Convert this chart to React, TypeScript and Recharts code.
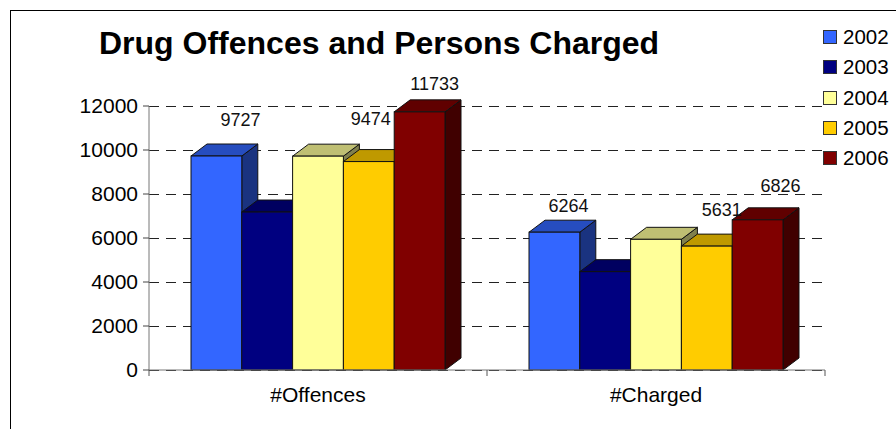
import { Bar, BarChart, CartesianGrid, LabelList, Legend, XAxis, YAxis } from 'recharts';

const categories = ['#Offences', '#Charged'];
const years = ['2002', '2003', '2004', '2005', '2006'];
const values2002 = [9727, 6264];
const values2003 = [7180, 4470];
const values2004 = [9720, 5940];
const values2005 = [9474, 5631];
const values2006 = [11733, 6826];
const yTicks = [0, 2000, 4000, 6000, 8000, 10000, 12000];
const title = 'Drug Offences and Persons Charged';

const seriesValues = [values2002, values2003, values2004, values2005, values2006];
const seriesColors = ['#3366ff', '#000080', '#ffff99', '#ffcc00', '#800000'];

const data = categories.map((name, i) => {
  const row: Record<string, string | number> = { name };
  years.forEach((year, s) => {
    row[year] = seriesValues[s][i];
  });
  return row;
});

const FONT = '"Liberation Sans", Arial, sans-serif';
const DEPTH_X = 16;
const DEPTH_Y = 12;
const PLOT_WIDTH = 676;
const HALF_BAND = PLOT_WIDTH / categories.length / 2;

function shade(hex: string, k: number) {
  const n = parseInt(hex.slice(1), 16);
  const r = Math.round(((n >> 16) & 255) * k);
  const g = Math.round(((n >> 8) & 255) * k);
  const b = Math.round((n & 255) * k);
  return `rgb(${r},${g},${b})`;
}

function Box3D(props: any) {
  const { x, y, width: w, height: h, fill } = props;
  const right = x + w;
  const bottom = y + h;
  const top = `${x},${y} ${x + DEPTH_X},${y - DEPTH_Y} ${right + DEPTH_X},${y - DEPTH_Y} ${right},${y}`;
  const side = `${right},${y} ${right + DEPTH_X},${y - DEPTH_Y} ${right + DEPTH_X},${bottom - DEPTH_Y} ${right},${bottom}`;
  return (
    <g stroke="#111" strokeWidth={1}>
      <polygon points={side} fill={shade(fill, 0.5)} />
      <polygon points={top} fill={shade(fill, 0.75)} />
      <rect x={x} y={y} width={w} height={h} fill={fill} />
    </g>
  );
}

// category axis ticks sit between the groups, not under them
function CategoryTick({ x, y, payload, index }: any) {
  const axisY = 370;
  return (
    <g>
      {index === 0 && <line x1={x - HALF_BAND} x2={x - HALF_BAND} y1={axisY} y2={axisY + 6} stroke="#555" />}
      <line x1={x + HALF_BAND} x2={x + HALF_BAND} y1={axisY} y2={axisY + 6} stroke="#555" />
      <text x={x} y={y} dy={24} textAnchor="middle" fontFamily={FONT} fontSize={21} fill="#000">
        {payload.value}
      </text>
    </g>
  );
}

// the labels in the source sit wherever someone dragged them
const labelShift: Record<string, [number, number][]> = {
  '2002': [[24, -36], [14, -26]],
  '2005': [[2, -43], [15, -36]],
  '2006': [[15, -28], [23, -34]],
};

function makeLabel(year: string) {
  return function ValueLabel(props: any) {
    const { x, y, width, value, index } = props;
    const [dx, dy] = labelShift[year][index];
    return (
      <text
        x={x + width / 2 + dx}
        y={y + dy}
        textAnchor="middle"
        dominantBaseline="central"
        fontFamily={FONT}
        fontSize={18}
        fill="#111"
      >
        {value}
      </text>
    );
  };
}

function LegendBox({ payload }: any) {
  return (
    <div style={{ fontFamily: FONT, fontSize: 20.5, color: '#000' }}>
      {(payload || []).map((item: any) => (
        <div key={item.value} style={{ display: 'flex', alignItems: 'center', height: 30.3 }}>
          <span
            style={{
              display: 'inline-block',
              boxSizing: 'border-box',
              width: 14,
              height: 14,
              marginRight: 6,
              background: item.color,
              border: '1px solid #333',
            }}
          />
          {item.value}
        </div>
      ))}
    </div>
  );
}

export default function App() {
  return (
    <div style={{ position: 'absolute', left: 0, top: 0, width: 896, height: 429, overflow: 'hidden', background: '#fff' }}>
      <div
        style={{
          position: 'absolute',
          left: 10,
          top: 10,
          width: 1000,
          height: 1000,
          border: '1px solid #000',
        }}
      />
      <BarChart
        width={896}
        height={429}
        data={data}
        margin={{ top: 106, right: 71, bottom: 19, left: 89 }}
        barSize={50.8}
        barGap={0}
        style={{ position: 'absolute', left: 0, top: 0 }}
      >
        <text x={99} y={43} dominantBaseline="central" fontFamily={FONT} fontWeight="bold" fontSize={32} fill="#000">
          {title}
        </text>
        <CartesianGrid horizontal vertical={false} stroke="#222" strokeDasharray="10 7" shapeRendering="crispEdges" />
        <XAxis
          dataKey="name"
          height={40}
          stroke="#777"
          tickLine={false}
          tick={<CategoryTick />}
          interval={0}
        />
        <YAxis
          width={60}
          domain={[0, 12000]}
          ticks={yTicks}
          stroke="#777"
          tickSize={6}
          tickMargin={5}
          tick={{ fontFamily: FONT, fontSize: 21, fill: '#000' }}
          tickLine={{ stroke: '#444' }}
        />
        <Legend
          layout="vertical"
          align="center"
          verticalAlign="middle"
          content={LegendBox}
          wrapperStyle={{ position: 'absolute', left: 823, top: 22, width: 73 }}
        />
        {years.map((year, s) => (
          <Bar
            key={year}
            dataKey={year}
            name={year}
            fill={seriesColors[s]}
            shape={Box3D}
            isAnimationActive={false}
          >
            {labelShift[year] && <LabelList dataKey={year} content={makeLabel(year)} />}
          </Bar>
        ))}
      </BarChart>
    </div>
  );
}
